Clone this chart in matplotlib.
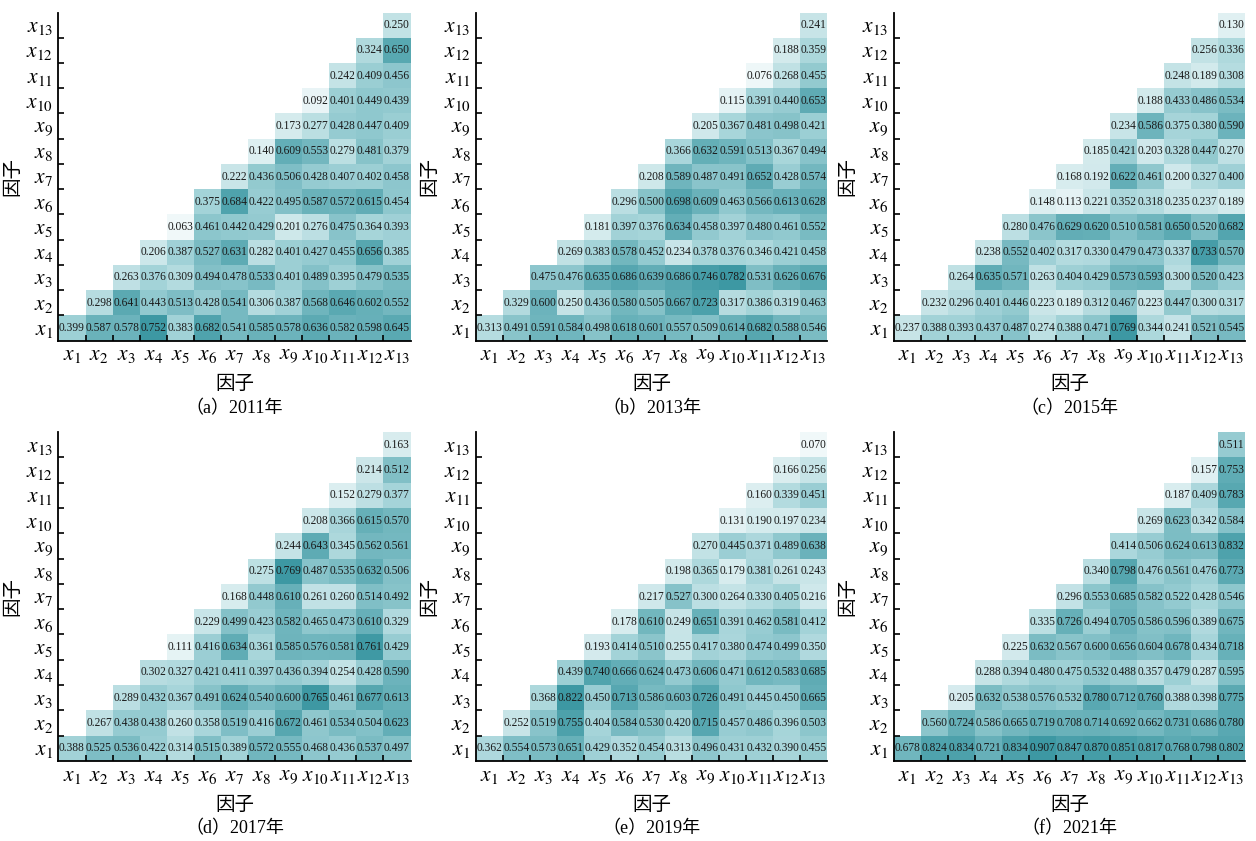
import numpy as np
import matplotlib
matplotlib.use("Agg")
import matplotlib.pyplot as plt
from matplotlib.colors import LinearSegmentedColormap

plt.rcParams['mathtext.fontset'] = 'stix'
plt.rcParams['font.family'] = ['Liberation Serif', 'Noto Sans CJK SC']

factors = [f"$x_{{{i}}}$" for i in range(1, 14)]
axis_label = "因子"
captions = ["（a）2011年", "（b）2013年", "（c）2015年", "（d）2017年", "（e）2019年", "（f）2021年"]

# each list: row i holds interactions of x_i with x_i..x_13
q2011 = [
    [0.399, 0.587, 0.578, 0.752, 0.383, 0.682, 0.541, 0.585, 0.578, 0.636, 0.582, 0.598, 0.645],
    [0.298, 0.641, 0.443, 0.513, 0.428, 0.541, 0.306, 0.387, 0.568, 0.646, 0.602, 0.552],
    [0.263, 0.376, 0.309, 0.494, 0.478, 0.533, 0.401, 0.489, 0.395, 0.479, 0.535],
    [0.206, 0.387, 0.527, 0.631, 0.282, 0.401, 0.427, 0.455, 0.656, 0.385],
    [0.063, 0.461, 0.442, 0.429, 0.201, 0.276, 0.475, 0.364, 0.393],
    [0.375, 0.684, 0.422, 0.495, 0.587, 0.572, 0.615, 0.454],
    [0.222, 0.436, 0.506, 0.428, 0.407, 0.402, 0.458],
    [0.140, 0.609, 0.553, 0.279, 0.481, 0.379],
    [0.173, 0.277, 0.428, 0.447, 0.409],
    [0.092, 0.401, 0.449, 0.439],
    [0.242, 0.409, 0.456],
    [0.324, 0.650],
    [0.250],
]
q2013 = [
    [0.313, 0.491, 0.591, 0.584, 0.498, 0.618, 0.601, 0.557, 0.509, 0.614, 0.682, 0.588, 0.546],
    [0.329, 0.600, 0.250, 0.436, 0.580, 0.505, 0.667, 0.723, 0.317, 0.386, 0.319, 0.463],
    [0.475, 0.476, 0.635, 0.686, 0.639, 0.686, 0.746, 0.782, 0.531, 0.626, 0.676],
    [0.269, 0.383, 0.578, 0.452, 0.234, 0.378, 0.376, 0.346, 0.421, 0.458],
    [0.181, 0.397, 0.376, 0.634, 0.458, 0.397, 0.480, 0.461, 0.552],
    [0.296, 0.500, 0.698, 0.609, 0.463, 0.566, 0.613, 0.628],
    [0.208, 0.589, 0.487, 0.491, 0.652, 0.428, 0.574],
    [0.366, 0.632, 0.591, 0.513, 0.367, 0.494],
    [0.205, 0.367, 0.481, 0.498, 0.421],
    [0.115, 0.391, 0.440, 0.653],
    [0.076, 0.268, 0.455],
    [0.188, 0.359],
    [0.241],
]
q2015 = [
    [0.237, 0.388, 0.393, 0.437, 0.487, 0.274, 0.388, 0.471, 0.769, 0.344, 0.241, 0.521, 0.545],
    [0.232, 0.296, 0.401, 0.446, 0.223, 0.189, 0.312, 0.467, 0.223, 0.447, 0.300, 0.317],
    [0.264, 0.635, 0.571, 0.263, 0.404, 0.429, 0.573, 0.593, 0.300, 0.520, 0.423],
    [0.238, 0.552, 0.402, 0.317, 0.330, 0.479, 0.473, 0.337, 0.733, 0.570],
    [0.280, 0.476, 0.629, 0.620, 0.510, 0.581, 0.650, 0.520, 0.682],
    [0.148, 0.113, 0.221, 0.352, 0.318, 0.235, 0.237, 0.189],
    [0.168, 0.192, 0.622, 0.461, 0.200, 0.327, 0.400],
    [0.185, 0.421, 0.203, 0.328, 0.447, 0.270],
    [0.234, 0.586, 0.375, 0.380, 0.590],
    [0.188, 0.433, 0.486, 0.534],
    [0.248, 0.189, 0.308],
    [0.256, 0.336],
    [0.130],
]
q2017 = [
    [0.388, 0.525, 0.536, 0.422, 0.314, 0.515, 0.389, 0.572, 0.555, 0.468, 0.436, 0.537, 0.497],
    [0.267, 0.438, 0.438, 0.260, 0.358, 0.519, 0.416, 0.672, 0.461, 0.534, 0.504, 0.623],
    [0.289, 0.432, 0.367, 0.491, 0.624, 0.540, 0.600, 0.765, 0.461, 0.677, 0.613],
    [0.302, 0.327, 0.421, 0.411, 0.397, 0.436, 0.394, 0.254, 0.428, 0.590],
    [0.111, 0.416, 0.634, 0.361, 0.585, 0.576, 0.581, 0.761, 0.429],
    [0.229, 0.499, 0.423, 0.582, 0.465, 0.473, 0.610, 0.329],
    [0.168, 0.448, 0.610, 0.261, 0.260, 0.514, 0.492],
    [0.275, 0.769, 0.487, 0.535, 0.632, 0.506],
    [0.244, 0.643, 0.345, 0.562, 0.561],
    [0.208, 0.366, 0.615, 0.570],
    [0.152, 0.279, 0.377],
    [0.214, 0.512],
    [0.163],
]
q2019 = [
    [0.362, 0.554, 0.573, 0.651, 0.429, 0.352, 0.454, 0.313, 0.496, 0.431, 0.432, 0.390, 0.455],
    [0.252, 0.519, 0.755, 0.404, 0.584, 0.530, 0.420, 0.715, 0.457, 0.486, 0.396, 0.503],
    [0.368, 0.822, 0.450, 0.713, 0.586, 0.603, 0.726, 0.491, 0.445, 0.450, 0.665],
    [0.439, 0.740, 0.666, 0.624, 0.473, 0.606, 0.471, 0.612, 0.583, 0.685],
    [0.193, 0.414, 0.510, 0.255, 0.417, 0.380, 0.474, 0.499, 0.350],
    [0.178, 0.610, 0.249, 0.651, 0.391, 0.462, 0.581, 0.412],
    [0.217, 0.527, 0.300, 0.264, 0.330, 0.405, 0.216],
    [0.198, 0.365, 0.179, 0.381, 0.261, 0.243],
    [0.270, 0.445, 0.371, 0.489, 0.638],
    [0.131, 0.190, 0.197, 0.234],
    [0.160, 0.339, 0.451],
    [0.166, 0.256],
    [0.070],
]
q2021 = [
    [0.678, 0.824, 0.834, 0.721, 0.834, 0.907, 0.847, 0.870, 0.851, 0.817, 0.768, 0.798, 0.802],
    [0.560, 0.724, 0.586, 0.665, 0.719, 0.708, 0.714, 0.692, 0.662, 0.731, 0.686, 0.780],
    [0.205, 0.632, 0.538, 0.576, 0.532, 0.780, 0.712, 0.760, 0.388, 0.398, 0.775],
    [0.288, 0.394, 0.480, 0.475, 0.532, 0.488, 0.357, 0.479, 0.287, 0.595],
    [0.225, 0.632, 0.567, 0.600, 0.656, 0.604, 0.678, 0.434, 0.718],
    [0.335, 0.726, 0.494, 0.705, 0.586, 0.596, 0.389, 0.675],
    [0.296, 0.553, 0.685, 0.582, 0.522, 0.428, 0.546],
    [0.340, 0.798, 0.476, 0.561, 0.476, 0.773],
    [0.414, 0.506, 0.624, 0.613, 0.832],
    [0.269, 0.623, 0.342, 0.584],
    [0.187, 0.409, 0.783],
    [0.157, 0.753],
    [0.511],
]
panels = [q2011, q2013, q2015, q2017, q2019, q2021]

cmap = LinearSegmentedColormap.from_list("teal", ["#ffffff", "#a3d3d8", "#3d98a3"])

W, H = 1256, 841
fig = plt.figure(figsize=(W / 100, H / 100), dpi=100)

col_px = [(58.5, 410.5), (476, 827), (894, 1245)]
row_px = [(12.5, 340.5), (432, 761)]

n = 13
for k, rows in enumerate(panels):
    r, c = divmod(k, 3)
    x0, x1 = col_px[c]
    t, b = row_px[r]
    ax = fig.add_axes([x0 / W, 1 - b / H, (x1 - x0) / W, (b - t) / H])
    M = np.full((n, n), np.nan)
    for i, vals in enumerate(rows):
        for j, v in enumerate(vals):
            M[i, i + j] = v
    vmax = np.nanmax(M)
    edges = np.arange(0.5, n + 1.5, 1.0)
    ax.pcolormesh(edges, edges, np.ma.masked_invalid(M), cmap=cmap, vmin=0, vmax=vmax)
    for i, vals in enumerate(rows):
        for j, v in enumerate(vals):
            ax.text(i + j + 1, i + 1, f"{v:.3f}", ha="center", va="center",
                    fontsize=8.3, color="#1a1a1a", family="Liberation Serif")
    ax.set_xlim(0.5, n + 0.5)
    ax.set_ylim(0.5, n + 0.5)
    for s in ["top", "right"]:
        ax.spines[s].set_visible(False)
    for s in ["left", "bottom"]:
        ax.spines[s].set_linewidth(1.3)
    bounds = np.arange(1.5, n, 1.0)
    centers = np.arange(1, n + 1)
    ax.set_xticks(bounds)
    ax.set_yticks(bounds)
    ax.set_xticklabels([])
    ax.set_yticklabels([])
    ax.tick_params(which="major", direction="in", length=4, width=1.2)
    ax.set_xticks(centers, minor=True)
    ax.set_yticks(centers, minor=True)
    ax.set_xticklabels(factors, minor=True, fontsize=15.5)
    ax.set_yticklabels(factors, minor=True, fontsize=15.5)
    ax.tick_params(which="minor", length=0, pad=4)
    ax.set_xlabel(axis_label, fontsize=14, family="Noto Sans CJK SC", labelpad=6)
    ax.set_ylabel(axis_label, fontsize=14, family="Noto Sans CJK SC", labelpad=3)
    cx = (x0 + x1) / 2
    fig.text(cx / W, 1 - (b + 68) / H, captions[k], ha="center", va="center", fontsize=13)

fig.savefig("out.png", dpi=100)
